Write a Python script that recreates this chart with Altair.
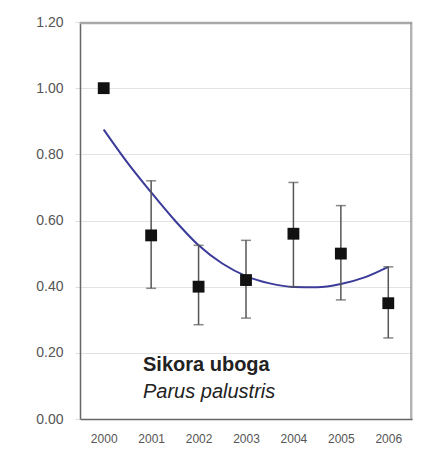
import altair as alt
import pandas as pd

years = [2000, 2001, 2002, 2003, 2004, 2005, 2006]
values = [1.00, 0.555, 0.40, 0.42, 0.56, 0.50, 0.35]
err_low = [None, 0.395, 0.285, 0.305, 0.40, 0.36, 0.245]
err_high = [None, 0.72, 0.525, 0.54, 0.715, 0.645, 0.46]

trend_x = [2000, 2000.5, 2001, 2001.5, 2002, 2002.5, 2003, 2003.5, 2004, 2004.5, 2005, 2005.5, 2006]
trend_y = [0.875, 0.775, 0.685, 0.60, 0.525, 0.47, 0.432, 0.41, 0.399, 0.398, 0.408, 0.428, 0.46]

y_ticks = [0.0, 0.2, 0.4, 0.6, 0.8, 1.0, 1.2]

pts = pd.DataFrame({"year": years, "value": values, "lo": err_low, "hi": err_high})
err = pts.dropna()
trend = pd.DataFrame({"year": trend_x, "value": trend_y})

W, H = 332, 397
FONT = "Liberation Sans"
xscale = alt.Scale(domain=[1999.5, 2006.5], nice=False, zero=False)
yscale = alt.Scale(domain=[0, 1.2], nice=False)

xax = alt.Axis(values=years, format="d", ticks=False, grid=False, title=None,
               labelFont=FONT, labelFontSize=12, labelColor="#555", labelPadding=14,
               domainColor="#666", domainWidth=1.5)
yax = alt.Axis(values=y_ticks, format=".2f", title=None, grid=True, gridColor="#e3e3e3",
               tickColor="#ddd", tickSize=5, labelFont=FONT, labelFontSize=14,
               labelColor="#555", labelPadding=12, domainColor="#666", domainWidth=1.5)

grid_layer = alt.Chart(pts).mark_point(opacity=0).encode(
    x=alt.X("year:Q", scale=xscale, axis=xax),
    y=alt.Y("value:Q", scale=yscale, axis=yax),
)

one = pd.DataFrame({"a": [0]})
frame_top = alt.Chart(one).mark_rule(color="#a9a9a9", strokeWidth=2.5).encode(
    x=alt.value(0), x2=alt.value(W), y=alt.value(1))
frame_right = alt.Chart(one).mark_rule(color="#9a9a9a", strokeWidth=1.5).encode(
    x=alt.value(W - 1), y=alt.value(0), y2=alt.value(H))

rules = alt.Chart(err).mark_rule(color="#555", strokeWidth=1.5).encode(
    x=alt.X("year:Q", scale=xscale),
    y=alt.Y("lo:Q", scale=yscale),
    y2="hi:Q",
)
cap_hi = alt.Chart(err).mark_tick(color="#555", orient="horizontal", size=10, thickness=1.5).encode(
    x=alt.X("year:Q", scale=xscale), y=alt.Y("hi:Q", scale=yscale))
cap_lo = alt.Chart(err).mark_tick(color="#555", orient="horizontal", size=10, thickness=1.5).encode(
    x=alt.X("year:Q", scale=xscale), y=alt.Y("lo:Q", scale=yscale))

line = alt.Chart(trend).mark_line(color="#3b3b9a", strokeWidth=2, interpolate="monotone").encode(
    x=alt.X("year:Q", scale=xscale), y=alt.Y("value:Q", scale=yscale))

squares = alt.Chart(pts).mark_square(color="#111", opacity=1, size=140).encode(
    x=alt.X("year:Q", scale=xscale), y=alt.Y("value:Q", scale=yscale))

label1 = alt.Chart(pd.DataFrame({"t": ["Sikora uboga"]})).mark_text(
    font=FONT, fontSize=20, fontWeight="bold", align="left", baseline="middle", color="#222"
).encode(text="t:N", x=alt.value(63), y=alt.value(343))
label2 = alt.Chart(pd.DataFrame({"t": ["Parus palustris"]})).mark_text(
    font=FONT, fontSize=20, fontStyle="italic", align="left", baseline="middle", color="#222"
).encode(text="t:N", x=alt.value(63), y=alt.value(370))

chart = alt.layer(grid_layer, frame_top, frame_right, line, rules, cap_hi, cap_lo, squares, label1, label2).properties(
    width=W, height=H,
    autosize=alt.AutoSizeParams(type="none"),
    padding={"left": 72, "top": 14, "right": 3, "bottom": 30},
).configure_view(stroke="#b0b0b0", strokeWidth=1.5).configure(background="white")

chart.save("out.html", embed_options={"renderer": "svg", "actions": False})
